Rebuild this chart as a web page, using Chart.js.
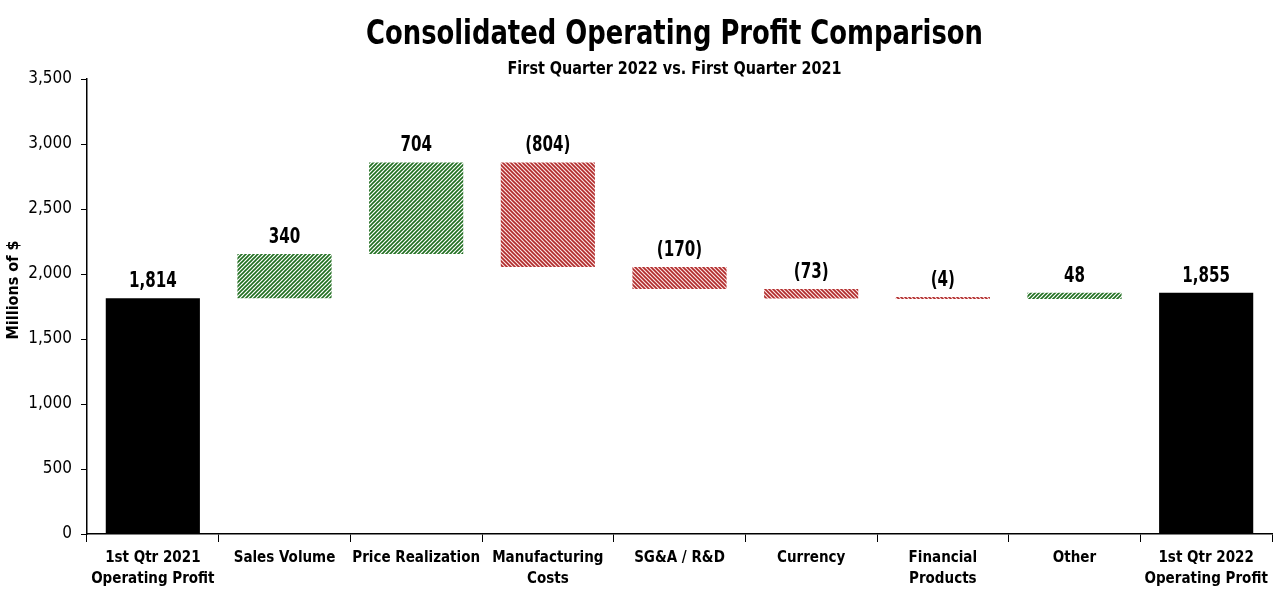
<!DOCTYPE html>
<html>
<head>
<meta charset="utf-8">
<script src="https://cdn.jsdelivr.net/npm/chart.js@4"></script>
<style>
  html, body { margin: 0; padding: 0; background: #fff; }
  #wrap { width: 1280px; height: 595px; }
</style>
</head>
<body>
<div id="wrap"><canvas id="chart"></canvas></div>
<script>
const FONT = "'Liberation Sans Narrow', 'DejaVu Sans Condensed', 'Liberation Sans', sans-serif";

// Data
const categories = [
  ["1st Qtr 2021", "Operating Profit"],
  "Sales Volume",
  "Price Realization",
  ["Manufacturing", "Costs"],
  "SG&A / R&D",
  "Currency",
  ["Financial", "Products"],
  "Other",
  ["1st Qtr 2022", "Operating Profit"]
];
const startProfit = 1814;
const changes = [340, 704, -804, -170, -73, -4, 48];
const endProfit = 1855;
const yTicks = [0, 500, 1000, 1500, 2000, 2500, 3000, 3500];

// Striped fill for the change bars
function stripes(fg, bg, rising) {
  let c = document.createElement("canvas");
  c.width = 4;
  c.height = 4;
  let ctx = c.getContext("2d");
  ctx.fillStyle = bg;
  ctx.fillRect(0, 0, 4, 4);
  ctx.strokeStyle = fg;
  ctx.lineWidth = 1.6;
  ctx.beginPath();
  if (rising) {
    ctx.moveTo(-1, 1); ctx.lineTo(1, -1);
    ctx.moveTo(0, 4); ctx.lineTo(4, 0);
    ctx.moveTo(3, 5); ctx.lineTo(5, 3);
  } else {
    ctx.moveTo(-1, 3); ctx.lineTo(1, 5);
    ctx.moveTo(0, 0); ctx.lineTo(4, 4);
    ctx.moveTo(3, -1); ctx.lineTo(5, 1);
  }
  ctx.stroke();
  return ctx.createPattern(c, "repeat");
}
const upFill = stripes("#1f6e1f", "#ffffff", true);
const downFill = stripes("#b02a2a", "#fbe3e3", false);

// Build floating ranges for the waterfall
let ranges = [[0, startProfit]];
let labels = [startProfit];
let fills = ["#000000"];
let level = startProfit;
changes.forEach(v => {
  ranges.push([level, level + v]);
  labels.push(v);
  fills.push(v >= 0 ? upFill : downFill);
  level += v;
});
ranges.push([0, endProfit]);
labels.push(endProfit);
fills.push("#000000");

function fmt(v) {
  let s = Math.abs(v).toLocaleString("en-US");
  return v < 0 ? "(" + s + ")" : s;
}

// Draws text squeezed sideways, to look like a narrow face
function narrowText(ctx, text, x, y, squeeze, angle) {
  ctx.save();
  ctx.translate(x, y);
  if (angle) ctx.rotate(angle);
  ctx.scale(squeeze, 1);
  ctx.fillText(text, 0, 0);
  ctx.restore();
}

// Value labels above each bar, plus titles
const decorate = {
  id: "decorate",
  afterDatasetsDraw(chart) {
    let ctx = chart.ctx;
    let meta = chart.getDatasetMeta(0);
    ctx.save();
    ctx.fillStyle = "#000";
    ctx.textAlign = "center";
    ctx.textBaseline = "bottom";
    ctx.font = "bold 21px " + FONT;
    meta.data.forEach((bar, i) => {
      let top = Math.min(bar.y, bar.base);
      narrowText(ctx, fmt(labels[i]), bar.x, top - 6, 0.8);
    });
    let cx = (chart.chartArea.left + chart.chartArea.right) / 2 - 5;
    ctx.textBaseline = "middle";
    ctx.font = "bold 33px " + FONT;
    narrowText(ctx, "Consolidated Operating Profit Comparison", cx, 35, 0.87);
    ctx.font = "bold 17px " + FONT;
    narrowText(ctx, "First Quarter 2022 vs. First Quarter 2021", cx, 70, 0.94);
    // y axis title
    ctx.font = "bold 16px " + FONT;
    narrowText(ctx, "Millions of $", 14, 290, 1, -Math.PI / 2);
    ctx.restore();
  }
};

new Chart(document.getElementById("chart"), {
  type: "bar",
  data: {
    labels: categories,
    datasets: [{
      data: ranges,
      backgroundColor: fills,
      borderWidth: 0,
      borderSkipped: false,
      minBarLength: 2,
      barPercentage: 0.715,
      categoryPercentage: 1
    }]
  },
  options: {
    responsive: true,
    maintainAspectRatio: false,
    animation: false,
    layout: { padding: { top: 79, right: 8, left: 0, bottom: 0 } },
    plugins: {
      legend: { display: false },
      tooltip: { enabled: false },
      title: { display: false }
    },
    scales: {
      x: {
        grid: {
          display: true,
          offset: true,
          drawOnChartArea: false,
          color: "#000",
          tickLength: 8,
          lineWidth: 1
        },
        border: { color: "#000", width: 1.5 },
        ticks: {
          color: "#000",
          maxRotation: 0,
          autoSkip: false,
          padding: 6,
          font: { family: FONT, size: 15, weight: "bold", lineHeight: 1.4 }
        },
        afterFit(scale) { scale.height = 61; }
      },
      y: {
        min: 0,
        max: 3500,
        afterBuildTicks(scale) { scale.ticks = yTicks.map(v => ({ value: v })); },
        grid: {
          display: true,
          drawOnChartArea: false,
          color: "#000",
          tickLength: 6
        },
        border: { color: "#000", width: 1.5 },
        ticks: {
          color: "#000",
          padding: 9,
          font: { family: FONT, size: 17 },
          callback: v => v.toLocaleString("en-US")
        },
        afterFit(scale) { scale.width = 87; }
      }
    }
  },
  plugins: [decorate]
});
</script>
</body>
</html>
